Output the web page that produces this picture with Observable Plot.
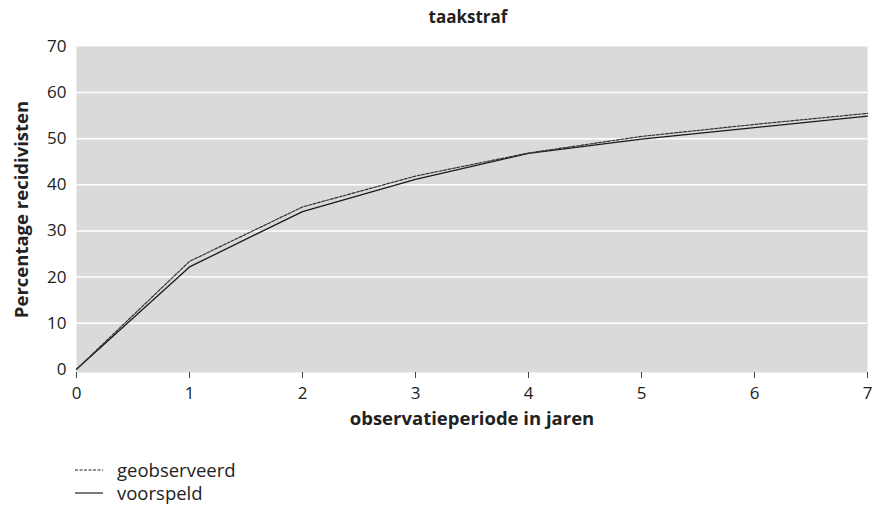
<!DOCTYPE html>
<html>
<head>
<meta charset="utf-8">
<script src="https://cdn.jsdelivr.net/npm/d3@7"></script>
<script src="https://cdn.jsdelivr.net/npm/@observablehq/plot@0.6"></script>
<style>
  html, body { margin: 0; padding: 0; background: #fff; }
  body { width: 876px; height: 509px; position: relative; font-family: "Open Sans", Lato, sans-serif; color: #222; overflow: hidden; }
  #chart { position: absolute; left: 0; top: 0; }
  #title { position: absolute; left: 68px; width: 800px; top: 5px; text-align: center; font-weight: bold; font-size: 17px; line-height: 24px; }
  #legend { position: absolute; left: 75px; top: 458px; font-size: 18.5px; line-height: 23px; }
  #legend .row { display: flex; align-items: center; }
  #legend svg { margin-right: 14px; }
</style>
</head>
<body>
<div id="chart"></div>
<div id="title">taakstraf</div>
<div id="legend"></div>
<script>
const years = [0, 1, 2, 3, 4, 5, 6, 7];
const geobserveerd = [0, 23.4, 35.2, 41.9, 46.9, 50.5, 53.1, 55.5];
const voorspeld = [0, 22.2, 34.2, 41.2, 46.8, 49.9, 52.4, 54.9];
const yTicks = [0, 10, 20, 30, 40, 50, 60, 70];
const gridLines = [10, 20, 30, 40, 50, 60];
const seriesNames = ["geobserveerd", "voorspeld"];

const obs = years.map((x, i) => ({x, y: geobserveerd[i]}));
const pred = years.map((x, i) => ({x, y: voorspeld[i]}));

const plot = Plot.plot({
  width: 876,
  height: 440,
  marginTop: 46,
  marginLeft: 76,
  marginRight: 9,
  marginBottom: 68,
  style: {fontFamily: "'Open Sans', Lato, sans-serif", color: "#222", background: "transparent"},
  x: {domain: [0, 7]},
  y: {domain: [-0.7, 70]},
  marks: [
    Plot.frame({fill: "#d9dada", stroke: null}),
    Plot.ruleY(gridLines, {stroke: "white", strokeWidth: 1.5}),
    Plot.axisX({ticks: years, tickSize: 6, tickPadding: 8, fontSize: 17, label: null, stroke: "#444", tickFormat: d => String(d)}),
    Plot.axisY({ticks: yTicks, tickSize: 0, tickPadding: 10, fontSize: 17, label: null, tickFormat: d => String(d)}),
    Plot.line(pred, {x: "x", y: "y", stroke: "#1a1a1a", strokeWidth: 1.3}),
    Plot.line(obs, {x: "x", y: "y", stroke: "#333", strokeWidth: 1.2, strokeDasharray: "3,1.5"}),
    Plot.text(["observatieperiode in jaren"], {frameAnchor: "bottom", dy: 52, fontSize: 18.5, fontWeight: "bold", fill: "#222"}),
    Plot.text(["Percentage recidivisten"], {frameAnchor: "left", dx: -54, rotate: -90, textAnchor: "middle", fontSize: 18.5, fontWeight: "bold", fill: "#222"})
  ]
});
document.getElementById("chart").appendChild(plot);

const legend = document.getElementById("legend");
seriesNames.forEach((name, i) => {
  const row = document.createElement("div");
  row.className = "row";
  const dash = i === 0 ? 'stroke-dasharray="3,1.5"' : '';
  row.innerHTML = `<svg width="28" height="10"><line x1="0" x2="28" y1="5" y2="5" stroke="#222" stroke-width="1.2" ${dash}/></svg><span>${name}</span>`;
  legend.appendChild(row);
});
</script>
</body>
</html>
